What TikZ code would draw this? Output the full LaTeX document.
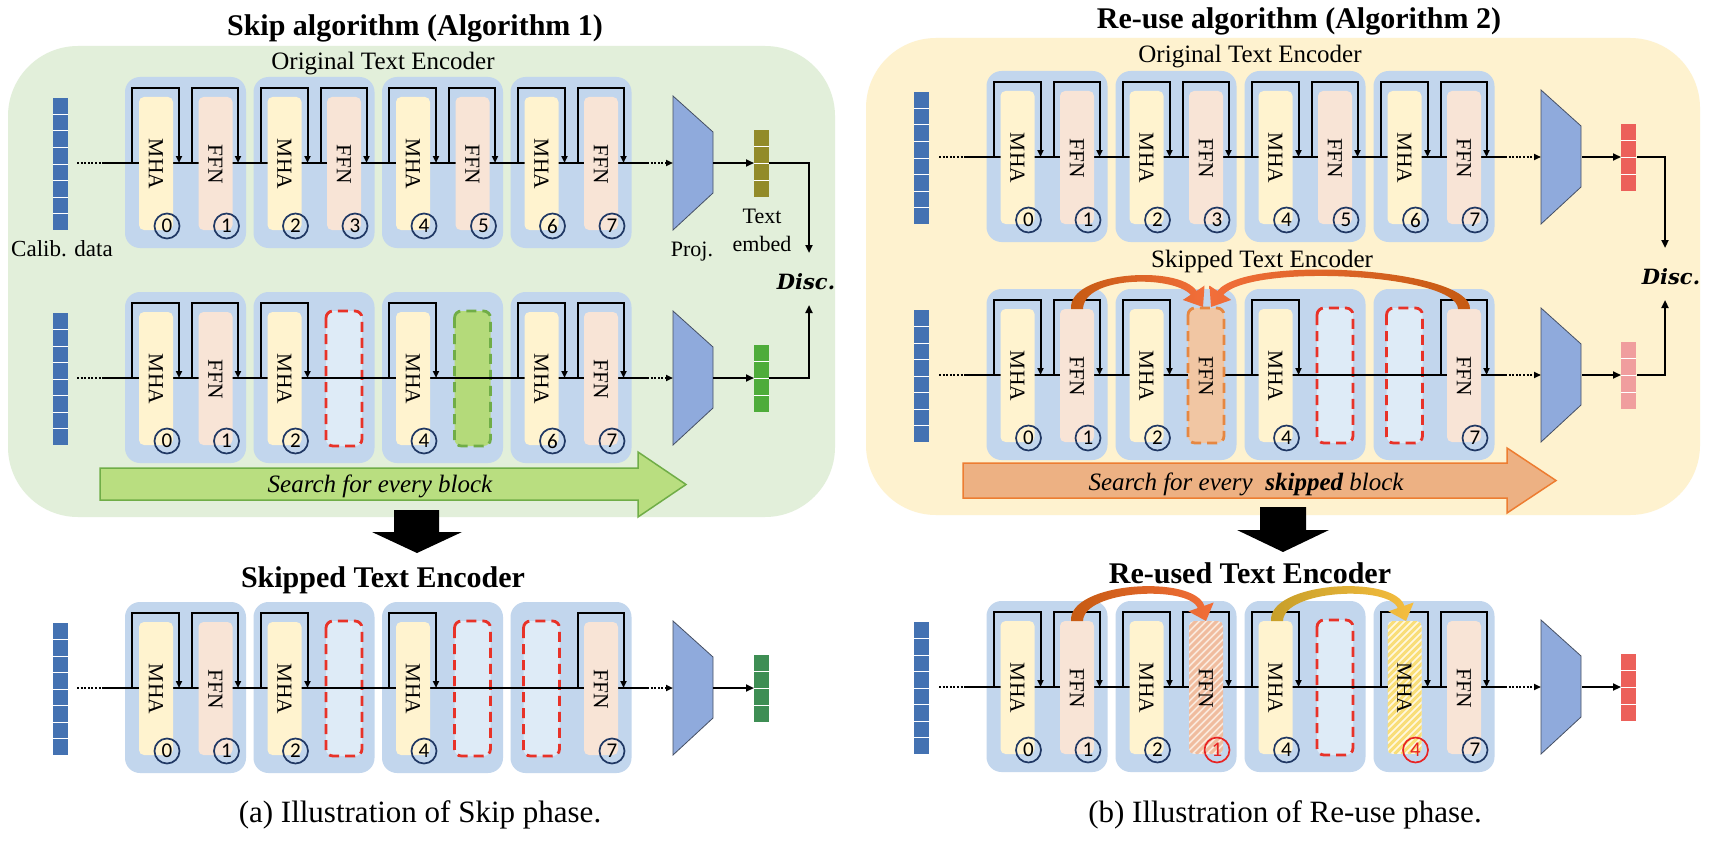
\documentclass[tikz,border=0pt]{standalone}
\usepackage{fontspec}
\setmainfont{Liberation Serif}
\newfontfamily\numfont{Carlito}
\newfontfamily\discfont{DejaVu Serif}
\usetikzlibrary{arrows.meta}

\definecolor{panelG}{RGB}{226,239,218}
\definecolor{panelY}{RGB}{254,242,207}
\definecolor{grpc}{RGB}{194,214,237}
\definecolor{mhac}{RGB}{255,243,207}
\definecolor{ffnc}{RGB}{248,228,214}
\definecolor{projc}{RGB}{143,170,220}
\definecolor{projd}{RGB}{70,80,100}
\definecolor{barc}{RGB}{68,114,178}
\definecolor{numc}{RGB}{32,56,100}
\definecolor{redd}{RGB}{232,50,40}
\definecolor{emptyc}{RGB}{222,235,247}
\definecolor{greenf}{RGB}{180,218,122}
\definecolor{greend}{RGB}{112,173,71}
\definecolor{orangef}{RGB}{241,198,163}
\definecolor{oranged}{RGB}{230,135,65}
\definecolor{embO}{RGB}{146,139,41}
\definecolor{embG}{RGB}{78,172,58}
\definecolor{embDG}{RGB}{62,142,84}
\definecolor{embR}{RGB}{236,96,90}
\definecolor{embP}{RGB}{240,158,158}
\definecolor{arrGf}{RGB}{185,222,128}
\definecolor{arrOf}{RGB}{237,177,131}
\definecolor{arrOd}{RGB}{237,125,49}
\definecolor{cDark}{RGB}{197,90,17}
\definecolor{cBright}{RGB}{242,110,58}
\definecolor{gDark}{RGB}{198,158,40}
\definecolor{gBright}{RGB}{246,190,64}
\definecolor{hatchO}{RGB}{240,188,158}
\definecolor{hatchOb}{RGB}{251,234,222}
\definecolor{hatchY}{RGB}{249,222,120}
\definecolor{hatchYb}{RGB}{255,248,222}
\definecolor{redn}{RGB}{232,35,35}

\tikzset{
  lbl/.style={font=\fontsize{21.5}{22}\selectfont, inner sep=0pt},
  numt/.style={font=\numfont\fontsize{21}{21}\selectfont, inner sep=0pt},
  mainl/.style={line width=2.4pt},
  dotl/.style={line width=2.4pt, dash pattern=on 2pt off 1.6pt},
  loopl/.style={line width=2pt, -{Triangle[length=7pt,width=6pt]}},
  tipa/.style={-{Triangle[length=8pt,width=7pt]}},
  emptybox/.style={line width=2.8pt, dash pattern=on 10pt off 6pt, rounded corners=7pt},
  txt/.style={inner sep=0pt, anchor=base},
}

\newcommand\grp[2]{\fill[grpc,rounded corners=15pt] (#1,#2-86) rectangle ++(121,171);}
\newcommand\lpM[2]{\draw[loopl] (#1+7,#2) -- (#1+7,#2-75) -- (#1+54,#2-75) -- (#1+54,#2);}
\newcommand\lpF[2]{\draw[loopl] (#1+67,#2) -- (#1+67,#2-75) -- (#1+113,#2-75) -- (#1+113,#2);}
\newcommand\blk[5]{%
  \fill[#3,rounded corners=5pt] (#1,#2-66) rectangle ++(34,133);
  \node[lbl,rotate=-90] at (#1+17,#2+1) {#4};
  \draw[numc,line width=1.7pt] (#1+28,#2+63) circle[radius=12.5pt];
  \node[numt,black] at (#1+28,#2+63) {#5};}
\newcommand\hblk[6]{%
  \begin{scope}
  \clip[rounded corners=5pt] (#1,#2-66) rectangle ++(34,133);
  \fill[#3] (#1,#2-66) rectangle ++(34,133);
  \foreach \k in {0,7,...,182}{\draw[#4,line width=3pt] (#1-140+\k,#2+67) -- ++(140,-140);}
  \end{scope}
  \node[lbl,rotate=-90] at (#1+17,#2+1) {#5};
  \draw[redn,line width=1.7pt] (#1+28,#2+63) circle[radius=12.5pt];
  \node[numt,redn] at (#1+28,#2+63) {#6};}
\newcommand\mha[3]{\lpM{#1}{#2}\blk{#1+14}{#2}{mhac}{MHA}{#3}}
\newcommand\ffn[3]{\lpF{#1}{#2}\blk{#1+73.5}{#2}{ffnc}{FFN}{#3}}
\newcommand\emptyF[4]{\draw[emptybox,#3,fill=#4] (#1+72.5,#2-67) rectangle ++(36,135);}
\newcommand\emptyM[4]{\draw[emptybox,#3,fill=#4] (#1+13,#2-67) rectangle ++(36,135);}
\newcommand\mline[5]{%
  \draw[dotl] (#1,#5) -- (#2,#5);
  \draw[mainl] (#2,#5) -- (#3,#5);
  \draw[dotl,-{Triangle[length=7pt,width=6pt]}] (#3,#5) -- (#4,#5);}
\newcommand\dbar[2]{\fill[barc] (#1,#2-65) rectangle ++(15,132);
  \foreach \k in {1,...,7}{\draw[white,line width=1pt] (#1,#2-65+\k*16.5) -- ++(15,0);}}
\newcommand\embbar[3]{\fill[#3] (#1,#2-33) rectangle ++(15,67);
  \foreach \k in {1,2,3}{\draw[white,line width=1pt] (#1,#2-33+\k*16.75) -- ++(15,0);}}
\newcommand\projbox[2]{\draw[projd,fill=projc,line width=0.8pt] (#1,#2-67) -- (#1+40,#2-31) -- (#1+40,#2+30) -- (#1,#2+67) -- cycle;}

\begin{document}
\begin{tikzpicture}[x=1pt,y=-1pt]
\useasboundingbox (0,0) rectangle (1712,840);
\fill[white] (0,0) rectangle (1712,840);

% panels
\fill[panelG,rounded corners=70pt] (8,46) rectangle (835,517);
\fill[panelY,rounded corners=70pt] (866,38) rectangle (1700,515);

% titles
\node[txt,font=\bfseries\fontsize{30}{36}\selectfont] (tl) at (415,36) {Skip algorithm (Algorithm 1)};
\node[txt,font=\bfseries\fontsize{30}{36}\selectfont] (tr) at (1299,29) {Re-use algorithm (Algorithm 2)};
\node[txt,font=\fontsize{25}{30}\selectfont] (otl) at (383,70) {Original Text Encoder};
\node[txt,font=\fontsize{25}{30}\selectfont] (otr) at (1250,63) {Original Text Encoder};
\node[txt,font=\fontsize{23}{28}\selectfont] (calib) at (62,256) {Calib. data};
\node[txt,font=\fontsize{22}{26}\selectfont] (projt) at (692,256) {Proj.};
\node[txt,font=\fontsize{22}{26}\selectfont] (te1) at (762,223) {Text};
\node[txt,font=\fontsize{22}{26}\selectfont] (te2) at (762,251) {embed};
\node[txt,font=\discfont\bfseries\itshape\fontsize{21}{24}\selectfont] (discL) at (806,289) {Disc.};
\node[txt,font=\discfont\bfseries\itshape\fontsize{21}{24}\selectfont] (discR) at (1671,284) {Disc.};
\node[txt,font=\bfseries\fontsize{30}{36}\selectfont] (sbl) at (383,587) {Skipped Text Encoder};
\node[txt,font=\bfseries\fontsize{30}{36}\selectfont] (rbl) at (1250,583) {Re-used Text Encoder};
\node[txt,font=\fontsize{31}{36}\selectfont] (capa) at (420,822) {(a) Illustration of Skip phase.};
\node[txt,font=\fontsize{31}{36}\selectfont] (capb) at (1285,822) {(b) Illustration of Re-use phase.};

% ===== Row L1 =====
\grp{125}{163}\grp{253.5}{163}\grp{382}{163}\grp{510.5}{163}
\mline{77}{104}{647}{673}{163}
\mha{125}{163}{0}\ffn{125}{163}{1}
\mha{253.5}{163}{2}\ffn{253.5}{163}{3}
\mha{382}{163}{4}\ffn{382}{163}{5}
\mha{510.5}{163}{6}\ffn{510.5}{163}{7}
\dbar{53}{163}
\projbox{673}{163}
\draw[mainl,tipa] (713,163) -- (754,163);
\embbar{754}{163}{embO}
\coordinate (dLt) at (809,253);
\draw[line width=2pt,tipa] (769,163) -- (809,163) -- (dLt);

% ===== Row L2 =====
\grp{125}{378}\grp{253.5}{378}\grp{382}{378}\grp{510.5}{378}
\emptyF{253.5}{378}{redd}{emptyc}
\emptyF{382}{378}{greend}{greenf}
\mline{77}{104}{647}{673}{378}
\mha{125}{378}{0}\ffn{125}{378}{1}
\mha{253.5}{378}{2}
\mha{382}{378}{4}
\mha{510.5}{378}{6}\ffn{510.5}{378}{7}
\dbar{53}{378}
\projbox{673}{378}
\draw[mainl,tipa] (713,378) -- (754,378);
\embbar{754}{378}{embG}
\coordinate (dLb) at (809,305);
\draw[line width=2pt,tipa] (769,378) -- (809,378) -- (dLb);

% search arrow left
\draw[greend,fill=arrGf,line width=1.5pt] (100,468) -- (638,468) -- (638,452) -- (686,484.5) -- (638,517) -- (638,500) -- (100,500) -- cycle;
\node[txt,font=\itshape\fontsize{25}{30}\selectfont] (sl) at (380,492) {Search for every block};

% ===== Row L3 =====
\grp{125}{688}\grp{253.5}{688}\grp{382}{688}\grp{510.5}{688}
\emptyF{253.5}{688}{redd}{emptyc}
\emptyF{382}{688}{redd}{emptyc}
\emptyM{510.5}{688}{redd}{emptyc}
\mline{77}{104}{647}{673}{688}
\mha{125}{688}{0}\ffn{125}{688}{1}
\mha{253.5}{688}{2}
\mha{382}{688}{4}
\ffn{510.5}{688}{7}
\dbar{53}{688}
\projbox{673}{688}
\draw[mainl,tipa] (713,688) -- (754,688);
\embbar{754}{688}{embDG}

% black arrows
\fill[black] (394,510) -- (439,510) -- (439,532) -- (462,532) -- (417,553) -- (372,532) -- (394,532) -- cycle;
\fill[black] (1260,507) -- (1306,507) -- (1306,530) -- (1329,530) -- (1283,552) -- (1237,530) -- (1260,530) -- cycle;

% ===== Row R1 =====
\grp{986.5}{157}\grp{1115.5}{157}\grp{1244.5}{157}\grp{1373.5}{157}
\mline{939}{966}{1505}{1541}{157}
\mha{986.5}{157}{0}\ffn{986.5}{157}{1}
\mha{1115.5}{157}{2}\ffn{1115.5}{157}{3}
\mha{1244.5}{157}{4}\ffn{1244.5}{157}{5}
\mha{1373.5}{157}{6}\ffn{1373.5}{157}{7}
\dbar{914}{157}
\projbox{1541}{157}
\draw[mainl,tipa] (1582,157) -- (1621,157);
\embbar{1621}{157}{embR}
\coordinate (dRt) at (1665,248);
\draw[line width=2pt,tipa] (1637,157) -- (1665,157) -- (dRt);

% ===== Row R2 =====
\grp{986.5}{375}\grp{1115.5}{375}\grp{1244.5}{375}\grp{1373.5}{375}
\emptyF{1244.5}{375}{redd}{emptyc}
\emptyM{1373.5}{375}{redd}{emptyc}
\mline{939}{966}{1505}{1541}{375}
\mha{986.5}{375}{0}\ffn{986.5}{375}{1}
\mha{1115.5}{375}{2}
\draw[emptybox,oranged,fill=orangef] (1188,308) rectangle ++(36,135);
\node[lbl,rotate=-90] (offn) at (1206,376) {FFN};
\mha{1244.5}{375}{4}
\ffn{1373.5}{375}{7}
\dbar{914}{375}
\projbox{1541}{375}
\draw[mainl,tipa] (1582,375) -- (1621,375);
\embbar{1621}{375}{embP}
\coordinate (dRb) at (1665,300);
\draw[line width=2pt,tipa] (1637,375) -- (1665,375) -- (dRb);

% curved arrows R2
\shade[left color=cDark,right color=cBright] (1071,309) .. controls (1068,272) and (1178,264) .. (1196.6,290.9) -- (1204.5,285.65) -- (1203,307) -- (1182.8,299.95) -- (1190.7,294.7) .. controls (1172,275) and (1084,276) .. (1083,309) -- cycle;
\shade[left color=cBright,right color=cDark] (1470,309) .. controls (1472,268) and (1247,254) .. (1217.4,290.9) -- (1209.5,285.65) -- (1211,307) -- (1231.2,299.95) -- (1223.3,294.7) .. controls (1253,263) and (1457,274) .. (1458,309) -- cycle;
\node[txt,font=\fontsize{25}{30}\selectfont] (str) at (1262,267) {Skipped Text Encoder};

% search arrow right
\draw[arrOd,fill=arrOf,line width=1.5pt] (963,463) -- (1507,463) -- (1507,448) -- (1556,480.5) -- (1507,513) -- (1507,498) -- (963,498) -- cycle;
\node[txt,font=\itshape\fontsize{25}{30}\selectfont] (sr) at (1246,490) {Search for every\ \ \textbf{skipped} block};

% ===== Row R3 =====
\grp{986.5}{687}\grp{1115.5}{687}\grp{1244.5}{687}\grp{1373.5}{687}
\emptyF{1244.5}{687}{redd}{emptyc}
\mline{939}{966}{1505}{1541}{687}
\mha{986.5}{687}{0}\ffn{986.5}{687}{1}
\mha{1115.5}{687}{2}
\lpF{1115.5}{687}
\hblk{1189}{687}{hatchOb}{hatchO}{FFN}{1}
\mha{1244.5}{687}{4}
\lpM{1373.5}{687}
\hblk{1387.5}{687}{hatchYb}{hatchY}{MHA}{4}
\ffn{1373.5}{687}{7}
\dbar{914}{687}
\projbox{1541}{687}
\draw[mainl,tipa] (1582,687) -- (1621,687);
\embbar{1621}{687}{embR}

% curved arrows R3
\shade[left color=cDark,right color=cBright] (1071,621) .. controls (1068,582) and (1194,574) .. (1204.34,605.75) -- (1213.7,602.45) -- (1206,621) -- (1188.4,611.35) -- (1197.76,608.05) .. controls (1188,585) and (1084,590) .. (1083,621) -- cycle;
\shade[left color=gDark,right color=gBright] (1271,621) .. controls (1268,582) and (1394,574) .. (1404.34,605.75) -- (1413.7,602.45) -- (1406,621) -- (1388.4,611.35) -- (1397.76,608.05) .. controls (1388,585) and (1284,590) .. (1283,621) -- cycle;

\end{tikzpicture}
\end{document}
